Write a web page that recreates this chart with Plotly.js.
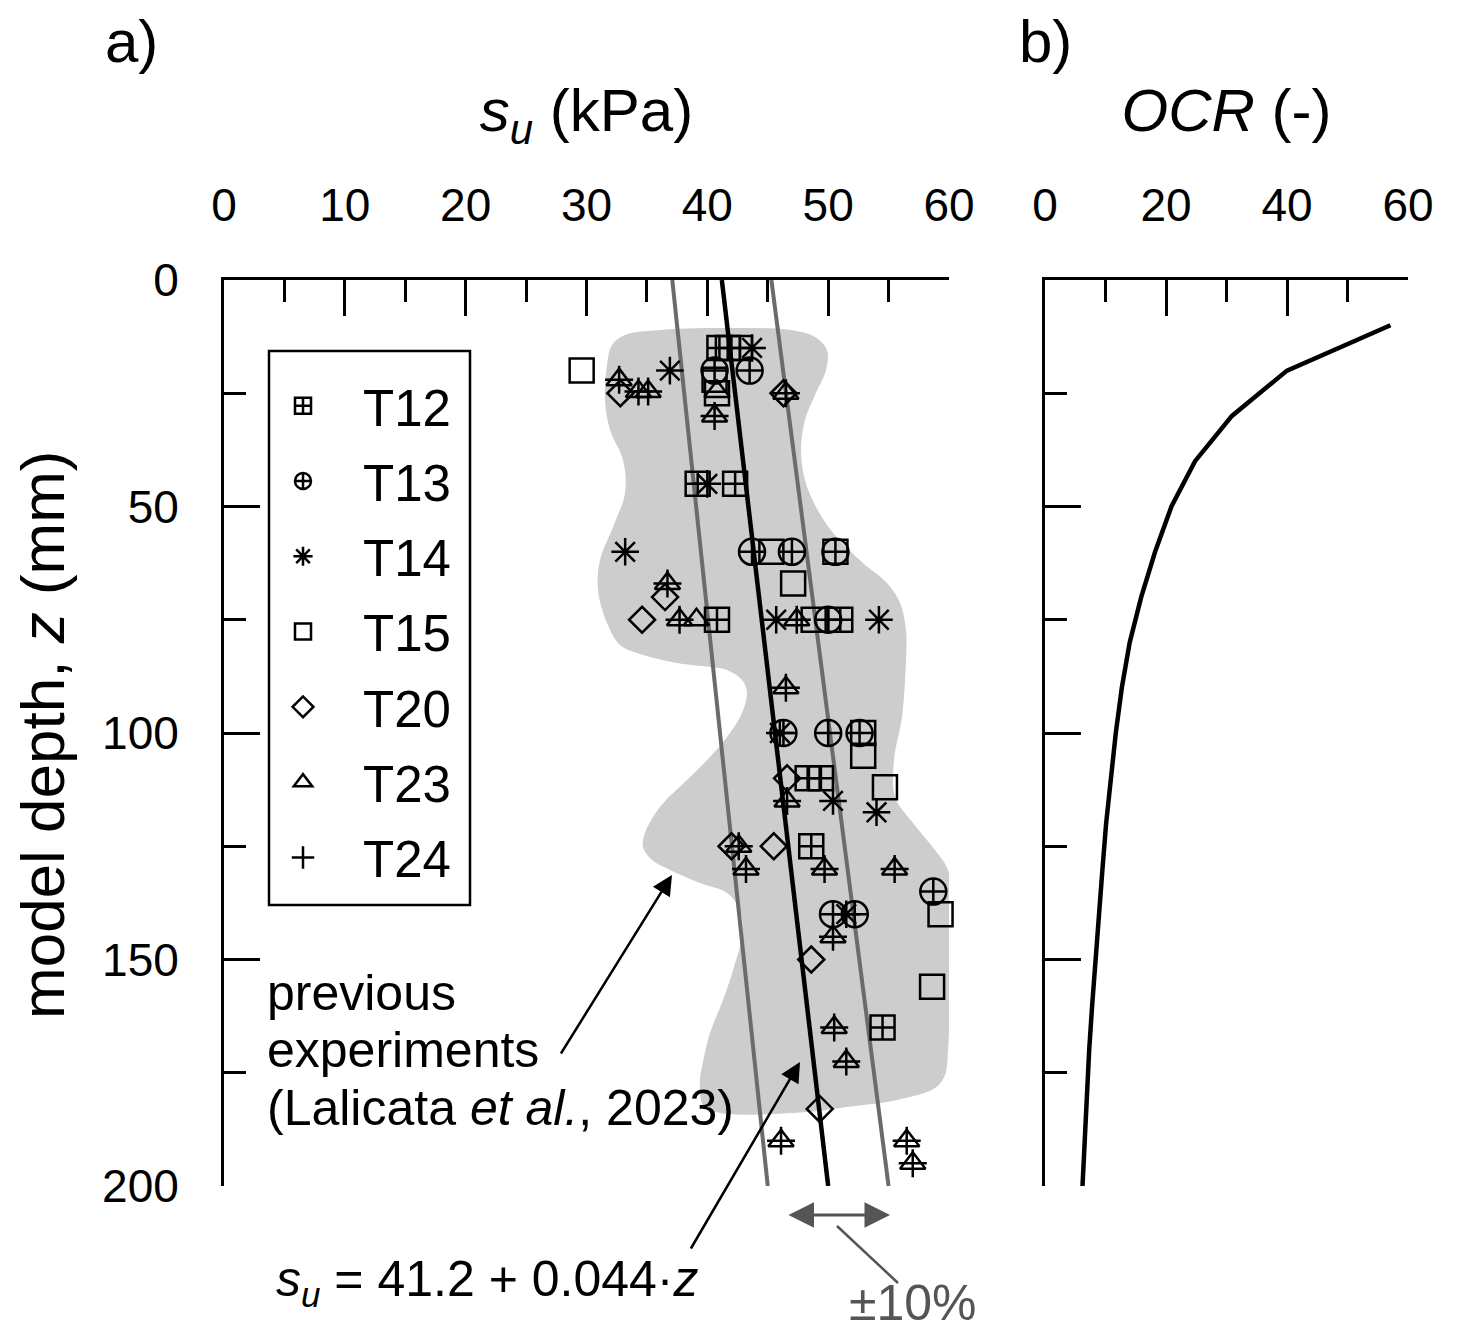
<!DOCTYPE html>
<html>
<head>
<meta charset="utf-8">
<script src="https://cdn.plot.ly/plotly-3.0.1.min.js"></script>
<style>html,body{margin:0;padding:0;background:#fff;}#chart{width:1459px;height:1335px;}</style>
</head>
<body>
<div id="chart"></div>
<script>
// ---- Data ----
// su in kPa, depth z in mm
const t12Su = [41.0, 41.7, 42.7, 39.2, 42.3, 40.8, 51.0, 48.3, 49.4, 48.6, 54.5];
const t12Z  = [15, 15, 15, 45, 45, 75, 75, 110, 110, 125, 165];

const t13Su = [40.6, 43.5, 43.7, 47.0, 50.6, 50.0, 46.3, 50.0, 52.6, 58.7, 50.4, 52.2];
const t13Z  = [20, 20, 60, 60, 60, 75, 100, 100, 100, 135, 140, 140];

const t14Su = [43.7, 36.9, 40.0, 33.2, 45.7, 54.2, 46.0, 50.4, 54.0, 51.5];
const t14Z  = [15, 20, 45, 60, 75, 75, 100, 115, 117.5, 140];

const t15Su = [29.6, 40.6, 40.8, 45.3, 50.6, 47.1, 48.8, 52.9, 52.9, 54.7, 59.3, 58.6];
const t15Z  = [20, 22, 25, 60, 60, 67, 75, 100, 105, 112, 140, 156];

const t20Su = [32.8, 46.3, 36.5, 34.6, 46.6, 42.0, 45.5, 48.6, 49.3];
const t20Z  = [25, 25, 70, 75, 110, 125, 125, 150, 183];

const t23Su = [32.7, 34.3, 35.1, 40.8, 40.6, 46.5, 36.7, 37.7, 39.1, 47.4, 46.5, 46.6, 42.6, 43.2, 49.7, 55.5, 50.4, 50.5, 51.5, 46.1, 56.5, 57.0];
const t23Z  = [22, 24.6, 24.6, 24.6, 30, 25, 67, 75, 75, 75, 90, 115, 125, 130, 130, 130, 145, 165, 172.5, 190, 190, 195];

const t24Su = [32.7, 34.3, 35.1, 40.6, 46.5, 36.7, 37.7, 47.4, 46.5, 46.6, 42.6, 43.2, 49.7, 55.5, 50.4, 50.5, 51.5, 46.1, 56.5, 57.0];
const t24Z  = [22, 24.6, 24.6, 30, 25, 67, 75, 75, 90, 115, 125, 130, 130, 130, 145, 165, 172.5, 190, 190, 195];

// fitted trend su = 41.2 + 0.044 z and the +/-10 % band (end values)
const fitZ     = [0, 200];
const fitSu    = [41.2, 50.0];
const upperSu  = [45.3, 55.0];
const lowerSu  = [37.1, 45.0];

// outline of the grey band of previous experiments
const blobSu = [31.70,32.11,33.19,36.08,41.05,46.84,48.91,49.90,49.82,48.91,48.08,47.75,48.08,48.91,50.40,52.88,54.87,55.95,56.44,56.44,56.11,55.45,55.53,57.02,58.84,59.92,60.25,60.33,60.08,59.92,59.67,58.84,55.70,51.56,48.25,41.05,39.64,39.39,39.56,40.22,41.30,42.13,42.87,42.71,41.63,39.39,36.91,35.42,34.68,34.84,36.08,38.32,40.22,41.63,42.87,43.28,42.87,41.63,40.22,37.49,34.18,32.77,31.70,30.95,31.12,32.19,33.19,33.02,31.95,31.53,31.70];
const blobZ  = [18.76,14.35,12.14,11.04,10.60,11.04,12.58,15.45,19.87,25.39,30.91,37.53,44.15,49.67,55.85,62.47,66.89,71.30,77.26,83.89,96.47,105.96,114.13,119.87,125.83,130.24,137.53,148.57,160.49,169.98,175.50,178.37,181.02,182.56,183.66,183.89,182.12,176.60,173.73,166.23,158.94,152.32,144.59,139.07,135.32,133.11,130.24,128.04,125.17,122.08,116.34,110.38,105.30,100.88,95.58,90.95,88.30,86.09,85.43,84.55,82.34,80.57,75.72,68.43,61.81,54.53,47.02,39.74,33.11,26.49,18.76];

// OCR profile
const ocrVal = [57.1, 40.0, 30.9, 24.8, 20.9, 18.2, 15.9, 14.0, 12.7, 11.7, 10.9, 10.1, 9.5, 8.9, 8.3, 7.8, 7.3, 6.9, 6.6, 6.2];
const ocrZ   = [10, 20, 30, 40, 50, 60, 70, 80, 90, 100, 110, 120, 130, 140, 150, 160, 170, 180, 190, 200];

// ---- Figure ----
const W = 1459, H = 1335;
const FONT = 'Arial, "Liberation Sans", sans-serif';
const px = v => v / W;
const py = v => 1 - v / H;

function mk(name, xs, ys, symbol, size) {
  return {
    type: 'scatter', mode: 'markers', name: name, x: xs, y: ys,
    xaxis: 'x', yaxis: 'y', legendgroup: name, cliponaxis: false,
    marker: {symbol: symbol, size: size, color: 'black', line: {color: 'black', width: 2.5}}
  };
}

const traces = [
  {type: 'scatter', mode: 'lines', x: blobSu, y: blobZ, fill: 'toself', fillcolor: '#cdcdcd',
   line: {width: 0, shape: 'spline', smoothing: 1}, showlegend: false, hoverinfo: 'skip', xaxis: 'x', yaxis: 'y'},
  {type: 'scatter', mode: 'lines', x: lowerSu, y: fitZ, line: {color: '#6b6b6b', width: 4}, showlegend: false, xaxis: 'x', yaxis: 'y'},
  {type: 'scatter', mode: 'lines', x: upperSu, y: fitZ, line: {color: '#6b6b6b', width: 4}, showlegend: false, xaxis: 'x', yaxis: 'y'},
  {type: 'scatter', mode: 'lines', x: fitSu, y: fitZ, line: {color: 'black', width: 4.5}, showlegend: false, xaxis: 'x', yaxis: 'y'},
  mk('T12', t12Su, t12Z, 'square-cross-open', 24),
  mk('T13', t13Su, t13Z, 'circle-cross-open', 26),
  mk('T14', t14Su, t14Z, 'asterisk-open', 23),
  mk('T15', t15Su, t15Z, 'square-open', 24),
  mk('T20', t20Su, t20Z, 'diamond-open', 20),
  mk('T23', t23Su, t23Z, 'triangle-up-open', 22),
  mk('T24', t24Su, t24Z, 'cross-thin-open', 20),
  {type: 'scatter', mode: 'lines', x: ocrVal, y: ocrZ, line: {color: 'black', width: 4.5}, showlegend: false, xaxis: 'x2', yaxis: 'y2'}
];

const axisCommon = {
  showline: true, linecolor: 'black', linewidth: 3, mirror: false,
  ticks: 'inside', tickcolor: 'black', tickwidth: 3, ticklen: 36,
  showgrid: false, zeroline: false, fixedrange: true,
  tickfont: {family: FONT, size: 46, color: 'black'}
};

function txt(x, y, text, size, extra) {
  return Object.assign({xref: 'paper', yref: 'paper', x: px(x), y: py(y), text: text, showarrow: false,
    xanchor: 'center', yanchor: 'middle', font: {family: FONT, size: size, color: 'black'}}, extra || {});
}

const layout = {
  width: W, height: H,
  margin: {l: 0, r: 0, t: 0, b: 0},
  paper_bgcolor: 'white', plot_bgcolor: 'rgba(0,0,0,0)',
  font: {family: FONT, color: 'black'},
  showlegend: true,
  legend: {
    x: px(243), y: py(366), xanchor: 'left', yanchor: 'top',
    bgcolor: 'rgba(0,0,0,0)', borderwidth: 0,
    font: {family: FONT, size: 51, color: 'black'},
    traceorder: 'grouped', tracegroupgap: 6, itemwidth: 110, itemsizing: 'trace'
  },
  xaxis: Object.assign({}, axisCommon, {
    domain: [px(224), px(949)], range: [0, 60], side: 'top', anchor: 'y',
    dtick: 10, tick0: 0, ticklabelstandoff: 38,
    minor: {dtick: 5, ticks: 'inside', ticklen: 22, tickwidth: 3, tickcolor: 'black', showgrid: false},
    title: {text: '<i>s</i><sub><i>u</i></sub> (kPa)', font: {family: FONT, size: 60, color: 'black'}, standoff: 28}
  }),
  yaxis: Object.assign({}, axisCommon, {
    domain: [py(1186), py(280)], range: [200, 0], anchor: 'x',
    dtick: 50, tick0: 0, ticklabelstandoff: 33,
    minor: {dtick: 25, ticks: 'inside', ticklen: 22, tickwidth: 3, tickcolor: 'black', showgrid: false}
  }),
  xaxis2: Object.assign({}, axisCommon, {
    domain: [px(1045), px(1408)], range: [0, 60], side: 'top', anchor: 'y2',
    dtick: 20, tick0: 0, ticklabelstandoff: 38,
    minor: {dtick: 10, ticks: 'inside', ticklen: 22, tickwidth: 3, tickcolor: 'black', showgrid: false},
    title: {text: '<i>OCR</i> (-)', font: {family: FONT, size: 60, color: 'black'}, standoff: 28}
  }),
  yaxis2: Object.assign({}, axisCommon, {
    domain: [py(1186), py(280)], range: [200, 0], anchor: 'x2', showticklabels: false,
    dtick: 50, tick0: 0,
    minor: {dtick: 25, ticks: 'inside', ticklen: 22, tickwidth: 3, tickcolor: 'black', showgrid: false}
  }),
  shapes: [
    {type: 'rect', xref: 'paper', yref: 'paper', x0: px(269), x1: px(470), y0: py(905), y1: py(351),
     line: {color: 'black', width: 2.5}, fillcolor: 'rgba(0,0,0,0)', layer: 'above'},
    {type: 'line', xref: 'paper', yref: 'paper', x0: px(837), y0: py(1226), x1: px(898), y1: py(1283),
     line: {color: '#555555', width: 2.5}}
  ],
  annotations: [
    txt(131, 42, 'a)', 60),
    txt(1045, 42, 'b)', 60),
    txt(42, 735, 'model depth, <i>z</i> (mm)', 62, {textangle: -90}),
    txt(265, 993, 'previous', 50, {xanchor: 'left'}),
    txt(265, 1050, 'experiments', 50, {xanchor: 'left'}),
    txt(265, 1108, '(Lalicata <i>et al.</i>, 2023)', 50, {xanchor: 'left'}),
    {xref: 'paper', yref: 'paper', x: px(672), y: py(875), ax: -112, ay: 180, text: '', showarrow: true,
     arrowhead: 2, arrowsize: 1.6, arrowwidth: 2.5, arrowcolor: 'black', standoff: 0, startstandoff: 0},
    txt(487, 1282, '<i>s</i><sub><i>u</i></sub> = 41.2 + 0.044·<i>z</i>', 50),
    {xref: 'paper', yref: 'paper', x: px(800), y: py(1062), ax: -110, ay: 188, text: '', showarrow: true,
     arrowhead: 2, arrowsize: 1.6, arrowwidth: 2.5, arrowcolor: 'black', standoff: 0, startstandoff: 0},
    {xref: 'paper', yref: 'paper', x: px(890), y: py(1215), ax: -103, ay: 0, text: '', showarrow: true,
     arrowhead: 2, startarrowhead: 2, arrowside: 'end+start', arrowsize: 1.7, startarrowsize: 1.7, arrowwidth: 3, arrowcolor: '#555555', standoff: 0, startstandoff: 0},
    txt(913, 1303, '±10%', 50, {font: {family: FONT, size: 50, color: '#555555'}, borderpad: 0})
  ]
};

Plotly.newPlot('chart', traces, layout, {displayModeBar: false, staticPlot: true});
</script>
</body>
</html>
